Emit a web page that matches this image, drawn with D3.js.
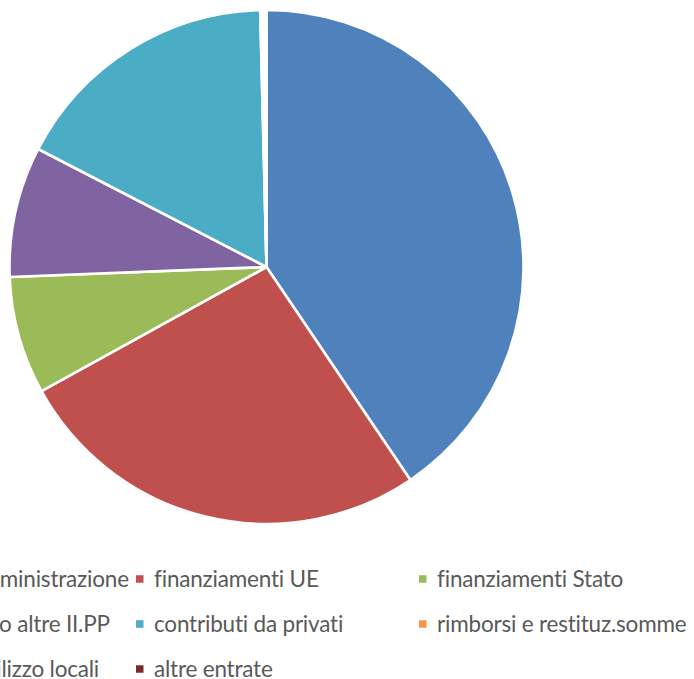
<!DOCTYPE html>
<html>
<head>
<meta charset="utf-8">
<script src="https://cdn.jsdelivr.net/npm/d3@7"></script>
<style>
  body { margin: 0; background: #fff; overflow: hidden; }
  text { font-family: Lato, "Liberation Sans", sans-serif; }
</style>
</head>
<body>
<div id="chart"></div>
<script>
// categories and shares (%), clockwise from 12 o'clock
var categories = [
  "contributi amministrazione",
  "finanziamenti UE",
  "finanziamenti Stato",
  "dalle Regioni o altre II.PP",
  "contributi da privati",
  "rimborsi e restituz.somme",
  "canone da utilizzo locali",
  "altre entrate"
];
var values = [40.5, 26.4, 7.4, 8.2, 17.0, 0.13, 0.13, 0.13];
var colors = ["#4F81BD", "#C0504D", "#9BBB59", "#8064A2", "#4BACC6", "#F79646", "#2C4D75", "#772C2A"];

var width = 694, height = 679;
var cx = 266.5, cy = 267, radius = 257;

var svg = d3.select("#chart")
  .append("svg")
    .attr("width", width)
    .attr("height", height);

var data = categories.map(function(c, i) {
  return { name: c, value: values[i], color: colors[i] };
});

var pie = d3.pie()
  .sort(null)
  .value(function(d) { return d.value; });

var arc = d3.arc()
  .innerRadius(0)
  .outerRadius(radius);

// Draw the slices
svg.append("g")
    .attr("transform", `translate(${cx},${cy})`)
  .selectAll("path")
  .data(pie(data))
  .enter().append("path")
    .attr("d", arc)
    .attr("fill", function(d) { return d.data.color; })
    .attr("stroke", "#fff")
    .attr("stroke-width", 2.6)
    .attr("stroke-linejoin", "round");

// Legend, 3 columns, row by row (first column sits partly off the page)
var colX = d3.scaleLinear().domain([0, 1]).range([-147, 136]);
var rowY = d3.scaleLinear().domain([0, 1]).range([579, 624]);

var legend = svg.append("g")
  .selectAll("g")
  .data(data)
  .enter().append("g")
    .attr("transform", function(d, i) {
      return `translate(${colX(i % 3)},${rowY(Math.floor(i / 3))})`;
    });

legend.append("rect")
  .attr("x", 0)
  .attr("y", -3.75)
  .attr("width", 7.5)
  .attr("height", 7.5)
  .attr("fill", function(d) { return d.color; });

legend.append("text")
  .attr("x", 18)
  .attr("y", 7.7)
  .attr("font-size", "22.5px")
  .attr("letter-spacing", "-0.2px")
  .attr("fill", "#595959")
  .text(function(d) { return d.name; });
</script>
</body>
</html>
